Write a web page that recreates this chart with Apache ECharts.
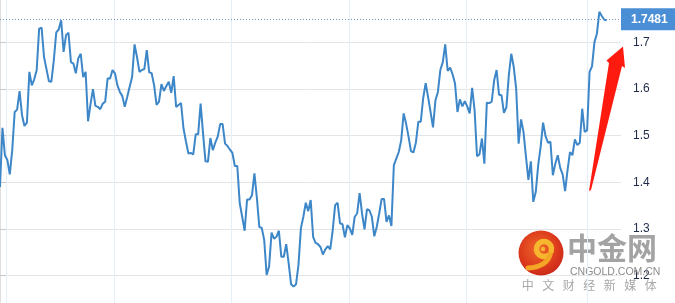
<!DOCTYPE html>
<html>
<head>
<meta charset="utf-8">
<script src="https://cdn.jsdelivr.net/npm/echarts@6/dist/echarts.min.js"></script>
<style>
html,body{margin:0;padding:0;background:#fff;overflow:hidden;width:675px;height:303px;}
#chart{position:absolute;left:0;top:-4px;width:675px;height:326px;}
</style>
</head>
<body>
<div id="chart"></div>
<script>
// Daily values (trading-day sequence)
const values = [
1.390,1.517,1.458,1.448,1.417,1.469,1.551,1.556,1.596,1.544,
1.521,1.528,1.637,1.608,1.621,1.641,1.730,1.732,1.669,1.643,
1.617,1.616,1.662,1.722,1.728,1.748,1.680,1.716,1.721,1.658,
1.655,1.634,1.666,1.676,1.626,1.637,1.531,1.568,1.600,1.564,
1.562,1.557,1.569,1.573,1.623,1.623,1.641,1.634,1.608,1.594,
1.585,1.562,1.583,1.605,1.626,1.696,1.669,1.637,1.641,1.643,
1.684,1.636,1.634,1.608,1.566,1.573,1.611,1.596,1.607,1.616,
1.592,1.628,1.562,1.566,1.570,1.516,1.488,1.462,1.463,1.460,
1.503,1.503,1.569,1.505,1.445,1.444,1.495,1.469,1.485,1.498,
1.525,1.525,1.483,1.478,1.470,1.463,1.435,1.435,1.355,1.326,
1.296,1.363,1.363,1.372,1.419,1.367,1.304,1.302,1.276,1.201,
1.219,1.292,1.279,1.283,1.296,1.240,1.240,1.267,1.226,1.181,
1.176,1.181,1.222,1.301,1.326,1.356,1.338,1.362,1.283,1.270,
1.267,1.261,1.245,1.256,1.263,1.256,1.297,1.351,1.356,1.312,
1.310,1.282,1.308,1.301,1.287,1.326,1.333,1.377,1.333,1.299,
1.342,1.340,1.326,1.284,1.304,1.333,1.364,1.364,1.315,1.329,
1.306,1.437,1.451,1.465,1.490,1.548,1.526,1.498,1.467,1.464,
1.485,1.530,1.530,1.581,1.613,1.583,1.551,1.518,1.576,1.594,
1.641,1.658,1.696,1.639,1.646,1.632,1.612,1.551,1.578,1.563,
1.574,1.563,1.548,1.603,1.555,1.456,1.460,1.494,1.440,1.571,
1.570,1.573,1.619,1.641,1.588,1.587,1.549,1.561,1.630,1.676,
1.648,1.601,1.483,1.535,1.508,1.455,1.405,1.445,1.358,1.379,
1.437,1.476,1.528,1.499,1.485,1.487,1.415,1.440,1.458,1.431,
1.417,1.381,1.426,1.465,1.458,1.492,1.480,1.485,1.558,1.508,
1.512,1.637,1.649,1.701,1.719,1.766,1.757,1.749,1.7481
];
// Month boundaries (in trading-day positions) for the vertical grid
const monthStarts = [2.6, 46.8, 94.6, 142.8, 190.7, 240.2];
// Y axis ticks
const yMin = 1.1, yMax = 1.8, yStep = 0.1;
const lastValue = values[values.length - 1];

const chart = echarts.init(document.getElementById('chart'), null, {renderer: 'canvas'});
const font = 'Liberation Sans, Arial, sans-serif';
const OY = 4; // container is shifted up by 4px

const subText = ['中','文','财','经','新','媒','体'];

chart.setOption({
  animation: false,
  backgroundColor: '#ffffff',
  grid: {left: 0, right: 54, top: 0, bottom: 0, containLabel: false},
  xAxis: {
    type: 'value', min: 0, max: 253.85,
    show: true,
    axisLine: {show: false}, axisTick: {show: false}, axisLabel: {show: false},
    splitLine: {show: false}
  },
  yAxis: {
    type: 'value', position: 'right', min: yMin, max: yMax, interval: yStep,
    axisLine: {show: true, lineStyle: {color: '#dedede', width: 1}},
    axisTick: {show: true, length: 7, lineStyle: {color: '#c8c8c8'}},
    axisLabel: {
      margin: 12, color: '#1e2a48', fontSize: 12, fontFamily: font,
      formatter: v => (v > yMin + 0.05 && v < yMax - 0.05) ? v.toFixed(1) : ''
    },
    splitLine: {show: true, lineStyle: {color: '#e4e4e4', width: 1}}
  },
  graphic: [
    {type: 'circle', z: 1, shape: {cx: 541, cy: 253 + OY, r: 22.5},
     style: {fill: new echarts.graphic.RadialGradient(0.45, 0.4, 0.7, [
       {offset: 0, color: '#ef6a2a'}, {offset: 0.6, color: '#dc3a1c'}, {offset: 1, color: '#c4211a'}])}},
    {type: 'arc', z: 2, shape: {cx: 544, cy: 249 + OY, r: 7.5, startAngle: Math.PI * 0.35, endAngle: Math.PI * 2.1, clockwise: true},
     style: {fill: null, stroke: '#f6b62e', lineWidth: 5.5, lineCap: 'round'}},
    {type: 'circle', z: 2, shape: {cx: 543, cy: 249 + OY, r: 2.2}, style: {fill: '#f6b62e'}},
    {type: 'bezierCurve', z: 2,
     shape: {x1: 550, y1: 255 + OY, cpx1: 546, cpy1: 267 + OY, x2: 528, y2: 268 + OY},
     style: {fill: null, stroke: '#f3a626', lineWidth: 5, lineCap: 'round'}},
    {type: 'text', z: 1, left: 567, top: 233 + OY,
     style: {text: '中金网', fill: '#a3a3a3', fontSize: 30, fontWeight: 'bold', fontFamily: 'Noto Sans CJK SC'}},
    {type: 'text', z: 1, left: 570, top: 267 + OY,
     style: {text: 'CNGOLD.COM.CN', fill: '#8c8c8c', fontSize: 10.5, fontFamily: font}},
    ...subText.map((c, i) => ({type: 'text', z: 1, left: 521.7 + i * 20.5, top: 279 + OY,
     style: {text: c, fill: '#a8a8a8', fontSize: 12, fontFamily: 'Noto Sans CJK SC'}})),
    {type: 'polygon', z: 20,
     shape: {points: [[589,191],[609,63],[606.5,60.5],[623,46.5],[625,68],[622,66],[591,190]].map(p => [p[0], p[1] + OY])},
     style: {fill: '#ff1a0f'}}
  ],
  series: [
    {
      type: 'line', z: 1, data: [], silent: true,
      markLine: {
        silent: true, symbol: 'none', z: 1, animation: false,
        label: {show: false},
        lineStyle: {color: '#e6eef7', width: 1, type: 'solid'},
        data: monthStarts.map(d => ({xAxis: d}))
      }
    },
    {
      type: 'line', z: 3,
      data: values.map((v, i) => [i, v]),
      showSymbol: false, symbol: 'none',
      lineStyle: {color: '#3d87c9', width: 2},
      markLine: {
        silent: true, symbol: 'none', animation: false,
        lineStyle: {color: '#6f92c0', width: 1, type: [1, 2]},
        label: {
          show: true, position: 'end', distance: 0,
          formatter: () => lastValue.toFixed(4),
          backgroundColor: '#4a8fd6', color: '#ffffff',
          fontWeight: 'bold', fontSize: 12, fontFamily: font,
          padding: [5, 9, 5, 10]
        },
        data: [{yAxis: lastValue}]
      }
    }
  ]
});
</script>
</body>
</html>
